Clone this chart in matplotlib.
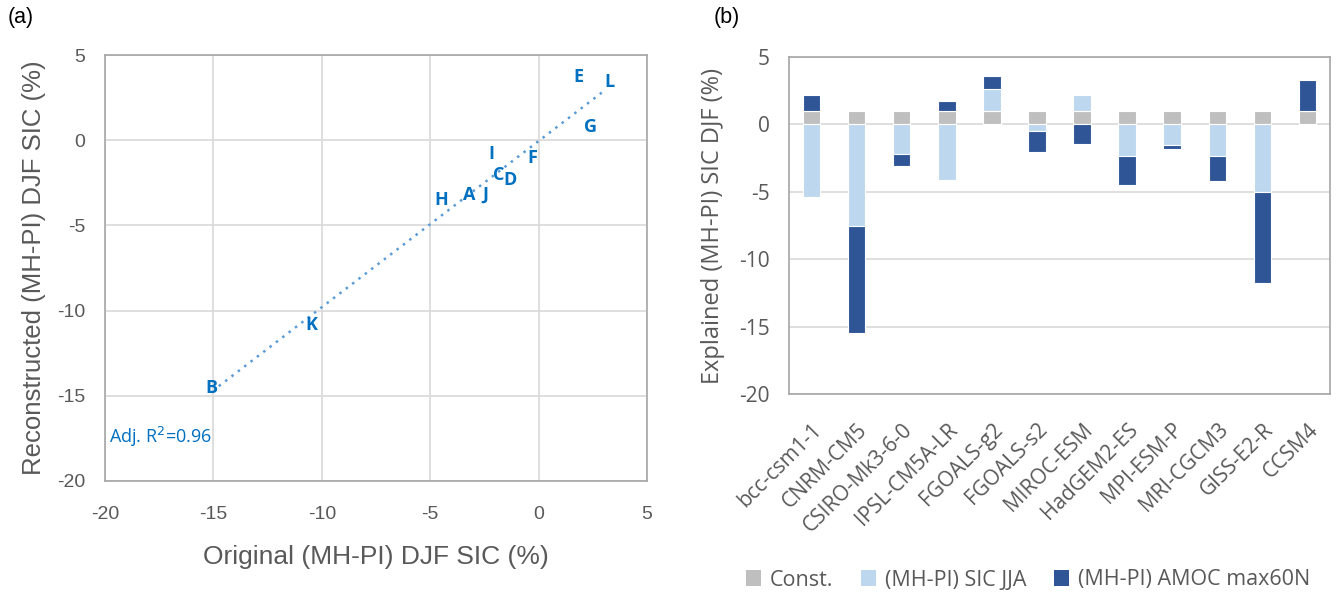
import matplotlib
matplotlib.use("Agg")
import matplotlib.pyplot as plt
import numpy as np
from matplotlib.patches import Patch

plt.rcParams['font.family'] = ['Open Sans', 'DejaVu Sans']
plt.rcParams['axes.unicode_minus'] = False

# ---------- Panel (a) data ----------
point_labels = ['A', 'B', 'C', 'D', 'E', 'F', 'G', 'H', 'I', 'J', 'K', 'L']
orig_x = [-3.2, -15.1, -1.85, -1.3, 1.85, -0.3, 2.4, -4.5, -2.2, -2.45, -10.5, 3.25]
recon_y = [-3.2, -14.55, -2.05, -2.35, 3.7, -1.05, 0.8, -3.5, -0.8, -3.2, -10.85, 3.4]
r2_text = 'Adj. R$^2$=0.96'

# ---------- Panel (b) data ----------
models = ['bcc-csm1-1', 'CNRM-CM5', 'CSIRO-Mk3-6-0', 'IPSL-CM5A-LR', 'FGOALS-g2',
          'FGOALS-s2', 'MIROC-ESM', 'HadGEM2-ES', 'MPI-ESM-P', 'MRI-CGCM3',
          'GISS-E2-R', 'CCSM4']
const_vals = [1.0] * 12
sic_jja = [-5.4, -7.55, -2.2, -4.1, 1.6, -0.5, 1.2, -2.35, -1.5, -2.35, -5.0, 0.0]
amoc = [1.2, -7.9, -0.85, 0.7, 1.0, -1.55, -1.45, -2.15, -0.35, -1.85, -6.8, 2.3]
series_names = ['Const.', '(MH-PI) SIC JJA', '(MH-PI) AMOC max60N']
series_colors = ['#BFBFBF', '#BDD7EE', '#2F5597']

text_gray = '#595959'
grid_gray = '#D9D9D9'
label_blue = '#0070C0'
arial = ['Liberation Sans', 'DejaVu Sans']

fig = plt.figure(figsize=(13.44, 5.97), dpi=100)
W, H = 1344, 597

def rect(l, t, r, b):
    return [l / W, 1 - b / H, (r - l) / W, (b - t) / H]

# ---------------- Panel (a) ----------------
ax1 = fig.add_axes(rect(105, 55, 647, 481))
ax1.set_xlim(-20, 5)
ax1.set_ylim(-20, 5)
ax1.set_xticks(np.arange(-20, 6, 5))
ax1.set_yticks(np.arange(-20, 6, 5))
ax1.grid(True, color=grid_gray, lw=1.2)
ax1.set_axisbelow(True)
ax1.tick_params(length=0, labelsize=14, colors=text_gray)
ax1.tick_params(axis='x', pad=18)
ax1.tick_params(axis='y', pad=14)
for t in ax1.get_xticklabels() + ax1.get_yticklabels():
    t.set_family(arial)
for s in ax1.spines.values():
    s.set_color('#A6A6A6')
    s.set_linewidth(1.2)

xa = np.array(orig_x)
ya = np.array(recon_y)
slope, intercept = np.polyfit(xa, ya, 1)
xl = np.array([xa.min() + 0.35, xa.max() - 0.25])
ax1.plot(xl, slope * xl + intercept, ls=(0, (1, 2.2)), color='#5B9BD5', lw=1.8, zorder=2)
for lab, xv, yv in zip(point_labels, orig_x, recon_y):
    ax1.text(xv, yv, lab, color=label_blue, fontsize=13, fontweight='bold',
             ha='center', va='center', zorder=3)
ax1.text(-19.8, -17.4, r2_text, color=label_blue, fontsize=13, ha='left', va='center')
ax1.set_xlabel('Original (MH-PI) DJF SIC (%)', fontsize=19, color=text_gray,
               labelpad=16, family=arial)
ax1.set_ylabel('Reconstructed (MH-PI) DJF SIC (%)', fontsize=18.5, color=text_gray,
               labelpad=8, family=arial)
fig.text(8 / W, 1 - 18 / H, '(a)', fontsize=15.5, va='center', ha='left', family=arial)

# ---------------- Panel (b) ----------------
ax2 = fig.add_axes(rect(789, 57, 1330, 394))
x = np.arange(len(models))
pos_bottom = np.zeros(len(models))
neg_bottom = np.zeros(len(models))
for vals, col, name in zip([const_vals, sic_jja, amoc], series_colors, series_names):
    v = np.array(vals, dtype=float)
    bottoms = np.where(v >= 0, pos_bottom, neg_bottom)
    ax2.bar(x, v, 0.39, bottom=bottoms, color=col, edgecolor='white', linewidth=0.8,
            label=name, zorder=3)
    pos_bottom = pos_bottom + np.where(v >= 0, v, 0)
    neg_bottom = neg_bottom + np.where(v < 0, v, 0)

ax2.set_xlim(-0.5, len(models) - 0.5)
ax2.set_ylim(-20, 5)
ax2.set_yticks(np.arange(-20, 6, 5))
ax2.yaxis.grid(True, color=grid_gray, lw=1.2)
ax2.set_axisbelow(True)
ax2.set_xticks(x)
ax2.set_xticklabels(models, rotation=45, ha='right', rotation_mode='anchor')
ax2.tick_params(length=0, labelsize=15, colors=text_gray)
ax2.tick_params(axis='y', pad=14)
ax2.tick_params(axis='x', pad=18)
for s in ax2.spines.values():
    s.set_color('#A6A6A6')
    s.set_linewidth(1.2)
ax2.set_ylabel('Explained (MH-PI) SIC DJF (%)', fontsize=17, color=text_gray, labelpad=10)
fig.text(714 / W, 1 - 18 / H, '(b)', fontsize=15.5, va='center', ha='left', family=arial)

handles = [Patch(facecolor=c, edgecolor='none') for c in series_colors]
fig.legend(handles, series_names, loc='center', bbox_to_anchor=(1028 / W, 1 - 580 / H),
           ncol=3, frameon=False, fontsize=15.5, labelcolor=text_gray,
           handlelength=0.7, handleheight=0.7, handletextpad=0.4, columnspacing=1.3)

fig.savefig('out.png', dpi=100)
